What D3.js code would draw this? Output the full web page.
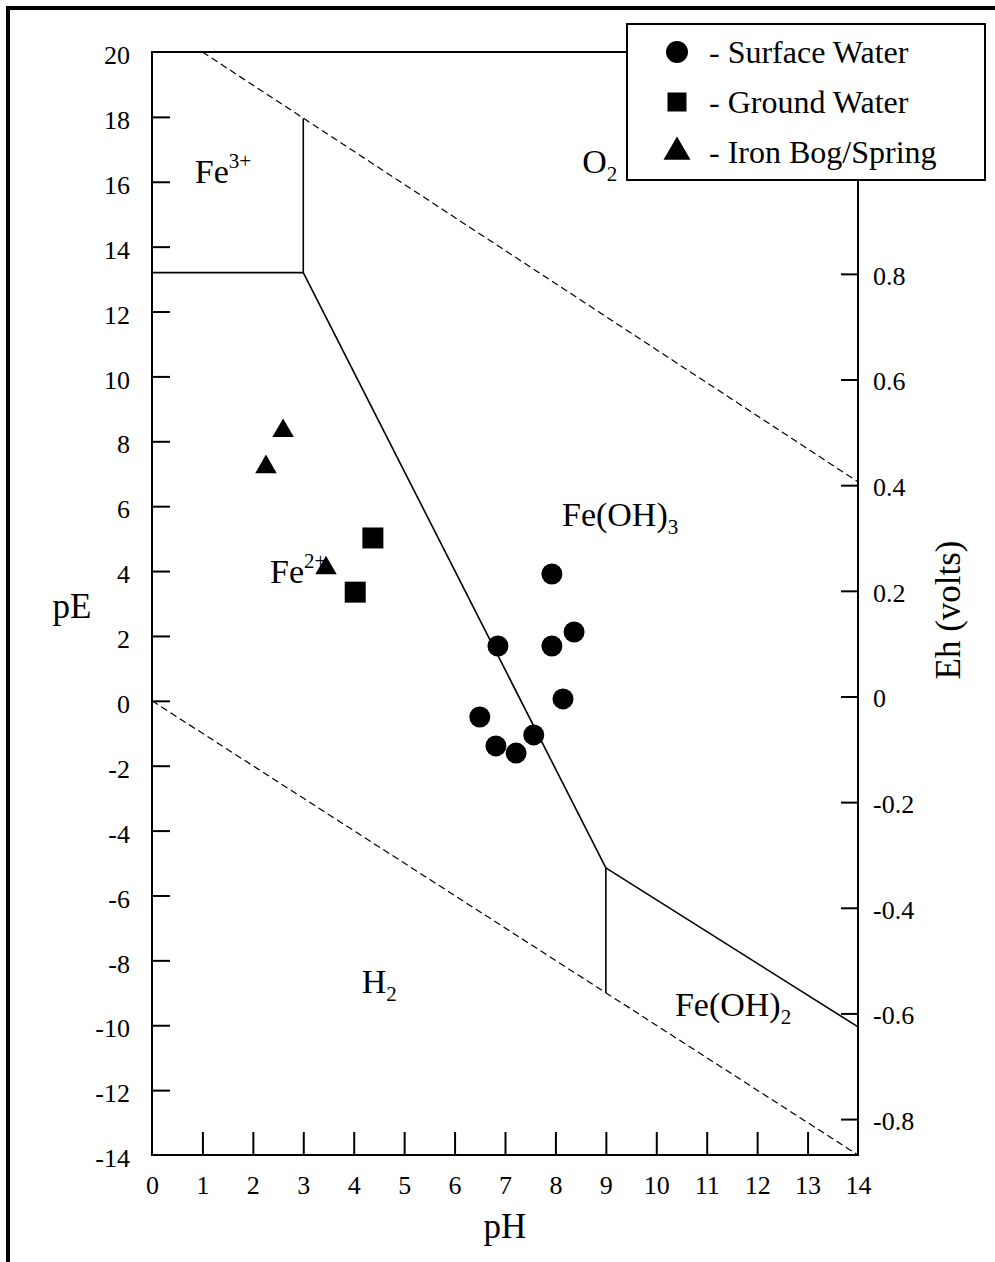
<!DOCTYPE html>
<html>
<head>
<meta charset="utf-8">
<script src="https://cdn.jsdelivr.net/npm/d3@7"></script>
<style>
  body { margin: 0; background: #fff; }
  svg text { font-family: "Liberation Serif", "Times New Roman", serif; fill: #000; }
</style>
</head>
<body>
<svg></svg>
<script>
// pH / pE axis ticks and the Eh ticks on the right
var phTicks = d3.range(0, 15);
var peTicks = d3.range(-14, 21, 2);
var ehTicks = [-0.8, -0.6, -0.4, -0.2, 0, 0.2, 0.4, 0.6, 0.8];

// samples, [pH, pE]
var surfaceWater = [[7.93, 3.91], [6.86, 1.69], [7.93, 1.69], [8.37, 2.12], [8.15, 0.06],
  [6.50, -0.50], [7.57, -1.05], [6.82, -1.39], [7.22, -1.61]];
var groundWater = [[4.38, 5.02], [4.03, 3.35]];
var ironBog = [[2.60, 8.32], [2.26, 7.21], [3.45, 4.09]];

// water stability limits (dashed) and iron boundaries (solid)
var waterLines = [
  [[1, 20], [14, 6.75]],
  [[0, 0], [14, -14]]
];
var ironLines = [
  [[0, 13.2], [3, 13.2]],
  [[3, 13.2], [3, 17.95]],
  [[3, 13.2], [9, -5.15]],
  [[9, -5.15], [9, -9]],
  [[9, -5.15], [14, -10.05]]
];

// field labels: text, superscript / subscript, pH, pE
var fieldLabels = [
  { main: 'Fe', sup: '3+', ph: 0.85, pe: 15.96 },
  { main: 'O', sub: '2', ph: 8.53, pe: 16.27 },
  { main: 'Fe(OH)', sub: '3', ph: 8.13, pe: 5.39 },
  { main: 'Fe', sup: '2+', ph: 2.34, pe: 3.63 },
  { main: 'H', sub: '2', ph: 4.16, pe: -9.01 },
  { main: 'Fe(OH)', sub: '2', ph: 10.37, pe: -9.72 }
];

var legendItems = ['- Surface Water', '- Ground Water', '- Iron Bog/Spring'];

var W = 995, H = 1262;
var svg = d3.select('svg').attr('width', W).attr('height', H);

// outer frame (only top and left edges are inside the picture)
svg.append('rect')
  .attr('x', 8).attr('y', 8).attr('width', 1100).attr('height', 1400)
  .attr('fill', 'none').attr('stroke', '#000').attr('stroke-width', 4);

var x = d3.scaleLinear().domain([0, 14]).range([152, 858]);
var y = d3.scaleLinear().domain([-14, 20]).range([1155, 52]);
var eh = d3.scaleLinear().domain([-0.868, 1.22]).range([1155, 52]);

var line = d3.line().x(function(d) { return x(d[0]); }).y(function(d) { return y(d[1]); });

// dashed water lines
svg.append('g').selectAll('path')
  .data(waterLines)
  .enter().append('path')
  .attr('d', line)
  .attr('fill', 'none').attr('stroke', '#000').attr('stroke-width', 1.2)
  .attr('stroke-dasharray', '7,4');

// iron boundaries
svg.append('g').selectAll('path')
  .data(ironLines)
  .enter().append('path')
  .attr('d', line)
  .attr('fill', 'none').attr('stroke', '#000').attr('stroke-width', 1.6);

// axes
function tidy(g) {
  g.select('.domain').remove();
  g.selectAll('.tick line').attr('stroke', '#000').attr('stroke-width', 2);
  g.selectAll('.tick text').attr('fill', '#000');
}

var left = svg.append('g').attr('transform', 'translate(152,0)')
  .call(d3.axisLeft(y).tickValues(peTicks).tickSize(-18).tickPadding(22).tickFormat(function(d) { return String(d); }))
  .attr('font-size', 26).attr('font-family', null);
tidy(left);
left.selectAll('.tick text').attr('dy', '0.45em');
left.selectAll('.tick line').filter(function(d) { return d === 20 || d === -14; }).remove();

var bottom = svg.append('g').attr('transform', 'translate(0,1155)')
  .call(d3.axisBottom(x).tickValues(phTicks).tickSize(-23).tickPadding(21))
  .attr('font-size', 26).attr('font-family', null);
tidy(bottom);
bottom.selectAll('.tick line').filter(function(d) { return d === 0 || d === 14; }).remove();

var right = svg.append('g').attr('transform', 'translate(858,0)')
  .call(d3.axisRight(eh).tickValues(ehTicks).tickSize(-17).tickPadding(15)
    .tickFormat(function(d) { return d === 0 ? '0' : d.toFixed(1); }))
  .attr('font-size', 26).attr('font-family', null);
tidy(right);
right.selectAll('.tick text').attr('dy', '0.4em');

// plot box
svg.append('rect')
  .attr('x', x(0)).attr('y', y(20))
  .attr('width', x(14) - x(0)).attr('height', y(-14) - y(20))
  .attr('fill', 'none').attr('stroke', '#000').attr('stroke-width', 2);

// axis titles
svg.append('text').attr('x', 72).attr('y', 618).attr('text-anchor', 'middle')
  .attr('font-size', 35).text('pE');
svg.append('text').attr('x', 505).attr('y', 1238).attr('text-anchor', 'middle')
  .attr('font-size', 35).text('pH');
svg.append('text').attr('transform', 'translate(960,610) rotate(-90)').attr('text-anchor', 'middle')
  .attr('font-size', 35).text('Eh (volts)');

// field labels
var lab = svg.append('g').selectAll('text')
  .data(fieldLabels)
  .enter().append('text')
  .attr('x', function(d) { return x(d.ph); })
  .attr('y', function(d) { return y(d.pe); })
  .attr('font-size', 34);
lab.append('tspan').text(function(d) { return d.main; });
lab.filter(function(d) { return d.sup; }).append('tspan')
  .attr('dy', -15).attr('font-size', 21).text(function(d) { return d.sup; });
lab.filter(function(d) { return d.sub; }).append('tspan')
  .attr('dy', 8).attr('font-size', 21).text(function(d) { return d.sub; });

// samples
var pts = svg.append('g');
pts.selectAll('circle')
  .data(surfaceWater)
  .enter().append('circle')
  .attr('cx', function(d) { return x(d[0]); })
  .attr('cy', function(d) { return y(d[1]); })
  .attr('r', 10.5).attr('fill', '#000');

pts.selectAll('path.sq')
  .data(groundWater)
  .enter().append('path').attr('class', 'sq')
  .attr('d', d3.symbol().type(d3.symbolSquare).size(441))
  .attr('transform', function(d) { return 'translate(' + x(d[0]) + ',' + y(d[1]) + ')'; })
  .attr('fill', '#000');

pts.selectAll('path.tri')
  .data(ironBog)
  .enter().append('path').attr('class', 'tri')
  .attr('d', d3.symbol().type(d3.symbolTriangle).size(200))
  .attr('transform', function(d) { return 'translate(' + x(d[0]) + ',' + y(d[1]) + ')'; })
  .attr('fill', '#000');

// legend
var legend = svg.append('g').attr('transform', 'translate(627,24)');
legend.append('rect').attr('width', 358).attr('height', 156)
  .attr('fill', '#fff').attr('stroke', '#000').attr('stroke-width', 2);

var symbols = [
  d3.symbol().type(d3.symbolCircle).size(380),
  d3.symbol().type(d3.symbolSquare).size(361),
  d3.symbol().type(d3.symbolTriangle).size(316)
];
var row = legend.selectAll('g.row')
  .data(legendItems)
  .enter().append('g').attr('class', 'row')
  .attr('transform', function(d, i) { return 'translate(0,' + (28 + i * 50) + ')'; });
row.append('path')
  .attr('d', function(d, i) { return symbols[i](); })
  .attr('transform', 'translate(50,0)')
  .attr('fill', '#000');
row.append('text').attr('x', 82).attr('y', 11)
  .attr('font-size', 32).text(function(d) { return d; });
</script>
</body>
</html>
